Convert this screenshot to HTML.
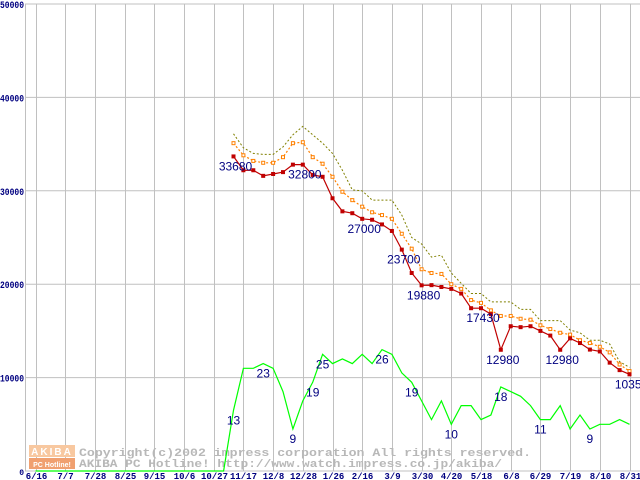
<!DOCTYPE html>
<html><head><meta charset="utf-8"><style>
html,body{margin:0;padding:0;background:#fff;}
svg{display:block;font-family:"Liberation Sans",sans-serif;}
</style></head><body>
<svg id="chart" width="640" height="480" viewBox="0 0 640 480" xmlns="http://www.w3.org/2000/svg">
<g id="grid"></g>
<g id="watermark">
  <rect x="29" y="445" width="46" height="12" fill="#f8c8a0"/>
  <rect x="29" y="458" width="46" height="11" fill="#f0a070"/>
  <text x="52" y="455" font-size="10" font-weight="bold" fill="#fff" text-anchor="middle" letter-spacing="2">AKIBA</text>
  <text x="52" y="467" font-size="7" font-weight="bold" fill="#fff" text-anchor="middle">PC Hotline!</text>
  <text x="79" y="456" font-size="11" font-weight="bold" fill="#b8b8b8" font-family="Liberation Mono, monospace" textLength="452" lengthAdjust="spacingAndGlyphs">Copyright(c)2002 impress corporation All rights reserved.</text>
  <text x="79" y="467" font-size="11" font-weight="bold" fill="#b8b8b8" font-family="Liberation Mono, monospace" textLength="423" lengthAdjust="spacingAndGlyphs">AKIBA PC Hotline!  http://www.watch.impress.co.jp/akiba/</text>
</g>
<g id="series"></g>
<g id="labels"></g>
</svg>
<script>
const xTickLabels = ["6/16","7/7","7/28","8/25","9/15","10/6","10/27","11/17","12/8","12/28","1/26","2/16","3/9","3/30","4/20","5/18","6/8","6/29","7/19","8/10","8/31"];
const yTicks = [0,10000,20000,30000,40000,50000];
const priceStartWeek = 20;
const minPrice = [33680,32200,32200,31600,31800,32000,32800,32800,31700,31500,29200,27800,27600,27000,26900,26400,25700,23700,21200,19880,19900,19700,19500,19000,17430,17430,16800,12980,15500,15400,15500,15000,14500,12980,14200,13700,13000,12800,11600,10800,10350];
const avgPrice = [35100,33800,33200,33000,33000,33600,35100,35200,33600,32900,31500,29900,29000,28300,27700,27400,27000,25400,23800,21600,21200,21100,20000,19500,18300,18000,17200,16600,16600,16300,16200,15600,15200,14800,14600,14000,13700,13300,12700,11400,10700];
const maxPrice = [36100,34600,34000,33900,33900,34700,36000,36900,36000,35100,34000,32200,30100,30000,29000,29000,29000,27400,25000,24300,22900,23100,21200,20100,19000,19000,18100,18100,18100,17300,17300,16100,16100,16100,15100,14800,14000,14000,13600,11700,11100];
const shopCount = [0,0,0,0,0,0,0,0,0,0,0,0,0,0,0,0,0,0,0,0,13,22,22,23,22,17,9,15,19,25,23,24,23,25,23,26,25,21,19,15,11,15,10,14,14,11,12,18,17,16,14,11,11,14,9,12,9,10,10,11,10];
const priceLabelWeeks = [20,27,33,37,39,45,47,53,60];
const priceLabelTexts = ["33680","32800","27000","23700","19880","17430","12980","12980","10350"];
const countLabelWeeks = [20,23,26,28,29,35,38,42,47,51,56];
const countLabelTexts = ["13","23","9","19","25","26","19","10","18","11","9"];

const NS="http://www.w3.org/2000/svg";
const X0=35.5, WEEK=29.7/3, Y0=471, PPU=467/50000;
function xw(w){return X0+w*WEEK;}
function yv(v){return Y0-v*PPU;}
function yc(c){return yv(c*500);}
function mk(tag,attrs,parent){const e=document.createElementNS(NS,tag);for(const k in attrs)e.setAttribute(k,attrs[k]);parent.appendChild(e);return e;}
const grid=document.getElementById('grid'), series=document.getElementById('series'), labels=document.getElementById('labels');

yTicks.forEach(v=>{
  const l=mk('line',{x1:25,x2:640,y1:yv(v),y2:yv(v),stroke:'#c0c0c0','stroke-width':1},grid);
  
  
  const attrs={x:v===0?24:0,y:yv(v)+4,'font-size':v===0?8:10,'font-weight':'bold',fill:'#000080','font-family':'Liberation Mono, monospace'};
  if(v===0){attrs['text-anchor']='end';}else{attrs.textLength=24;attrs.lengthAdjust='spacingAndGlyphs';}
  const t=mk('text',attrs,grid);
  t.textContent=String(v);
  
  
});
const ax=mk('line',{x1:25.5,x2:25.5,y1:4,y2:471,stroke:'#c0c0c0'},grid);


xTickLabels.forEach((s,i)=>{
  const x=Math.round(xw(i*3))+0.5;
  const l=mk('line',{x1:x,x2:x,y1:4,y2:471,stroke:'#c0c0c0'},grid);
  
  
  const t=mk('text',{x:x,y:479,'font-size':9,'font-weight':'bold',fill:'#000080','text-anchor':'middle','font-family':'Liberation Mono, monospace'},grid);
  t.textContent=s;
  
  
});

function pts(arr,start,fy){return arr.map((v,i)=>xw(start+i).toFixed(1)+','+fy(v).toFixed(1)).join(' ');}
const g=mk('polyline',{points:pts(shopCount,0,yc),fill:'none',stroke:'#00ff00','stroke-width':1.2},series);


const mx=mk('polyline',{points:pts(maxPrice,priceStartWeek,yv),fill:'none',stroke:'#808000','stroke-width':1,'stroke-dasharray':'2,2'},series);


const av=mk('polyline',{points:pts(avgPrice,priceStartWeek,yv),fill:'none',stroke:'#ff8000','stroke-width':1.2,'stroke-dasharray':'2,2'},series);


avgPrice.forEach((v,i)=>{
  const r=mk('rect',{x:xw(priceStartWeek+i)-1.5,y:yv(v)-1.5,width:3,height:3,fill:'#fff',stroke:'#ff8000','stroke-width':1},series);
  
  
});
const mn=mk('polyline',{points:pts(minPrice,priceStartWeek,yv),fill:'none',stroke:'#c00000','stroke-width':1.2},series);


minPrice.forEach((v,i)=>{
  const r=mk('rect',{x:xw(priceStartWeek+i)-2,y:yv(v)-2,width:4,height:4,fill:'#c00000'},series);
  
  
});
priceLabelWeeks.forEach((w,i)=>{
  const t=mk('text',{x:xw(w)+2,y:yv(minPrice[w-priceStartWeek])+14,'font-size':12,fill:'#000080','text-anchor':'middle'},labels);
  t.textContent=priceLabelTexts[i];
  
  
});
countLabelWeeks.forEach((w,i)=>{
  const t=mk('text',{x:xw(w),y:yc(shopCount[w])+14,'font-size':12,fill:'#000080','text-anchor':'middle'},labels);
  t.textContent=countLabelTexts[i];
  
  
});
</script>
</body></html>
